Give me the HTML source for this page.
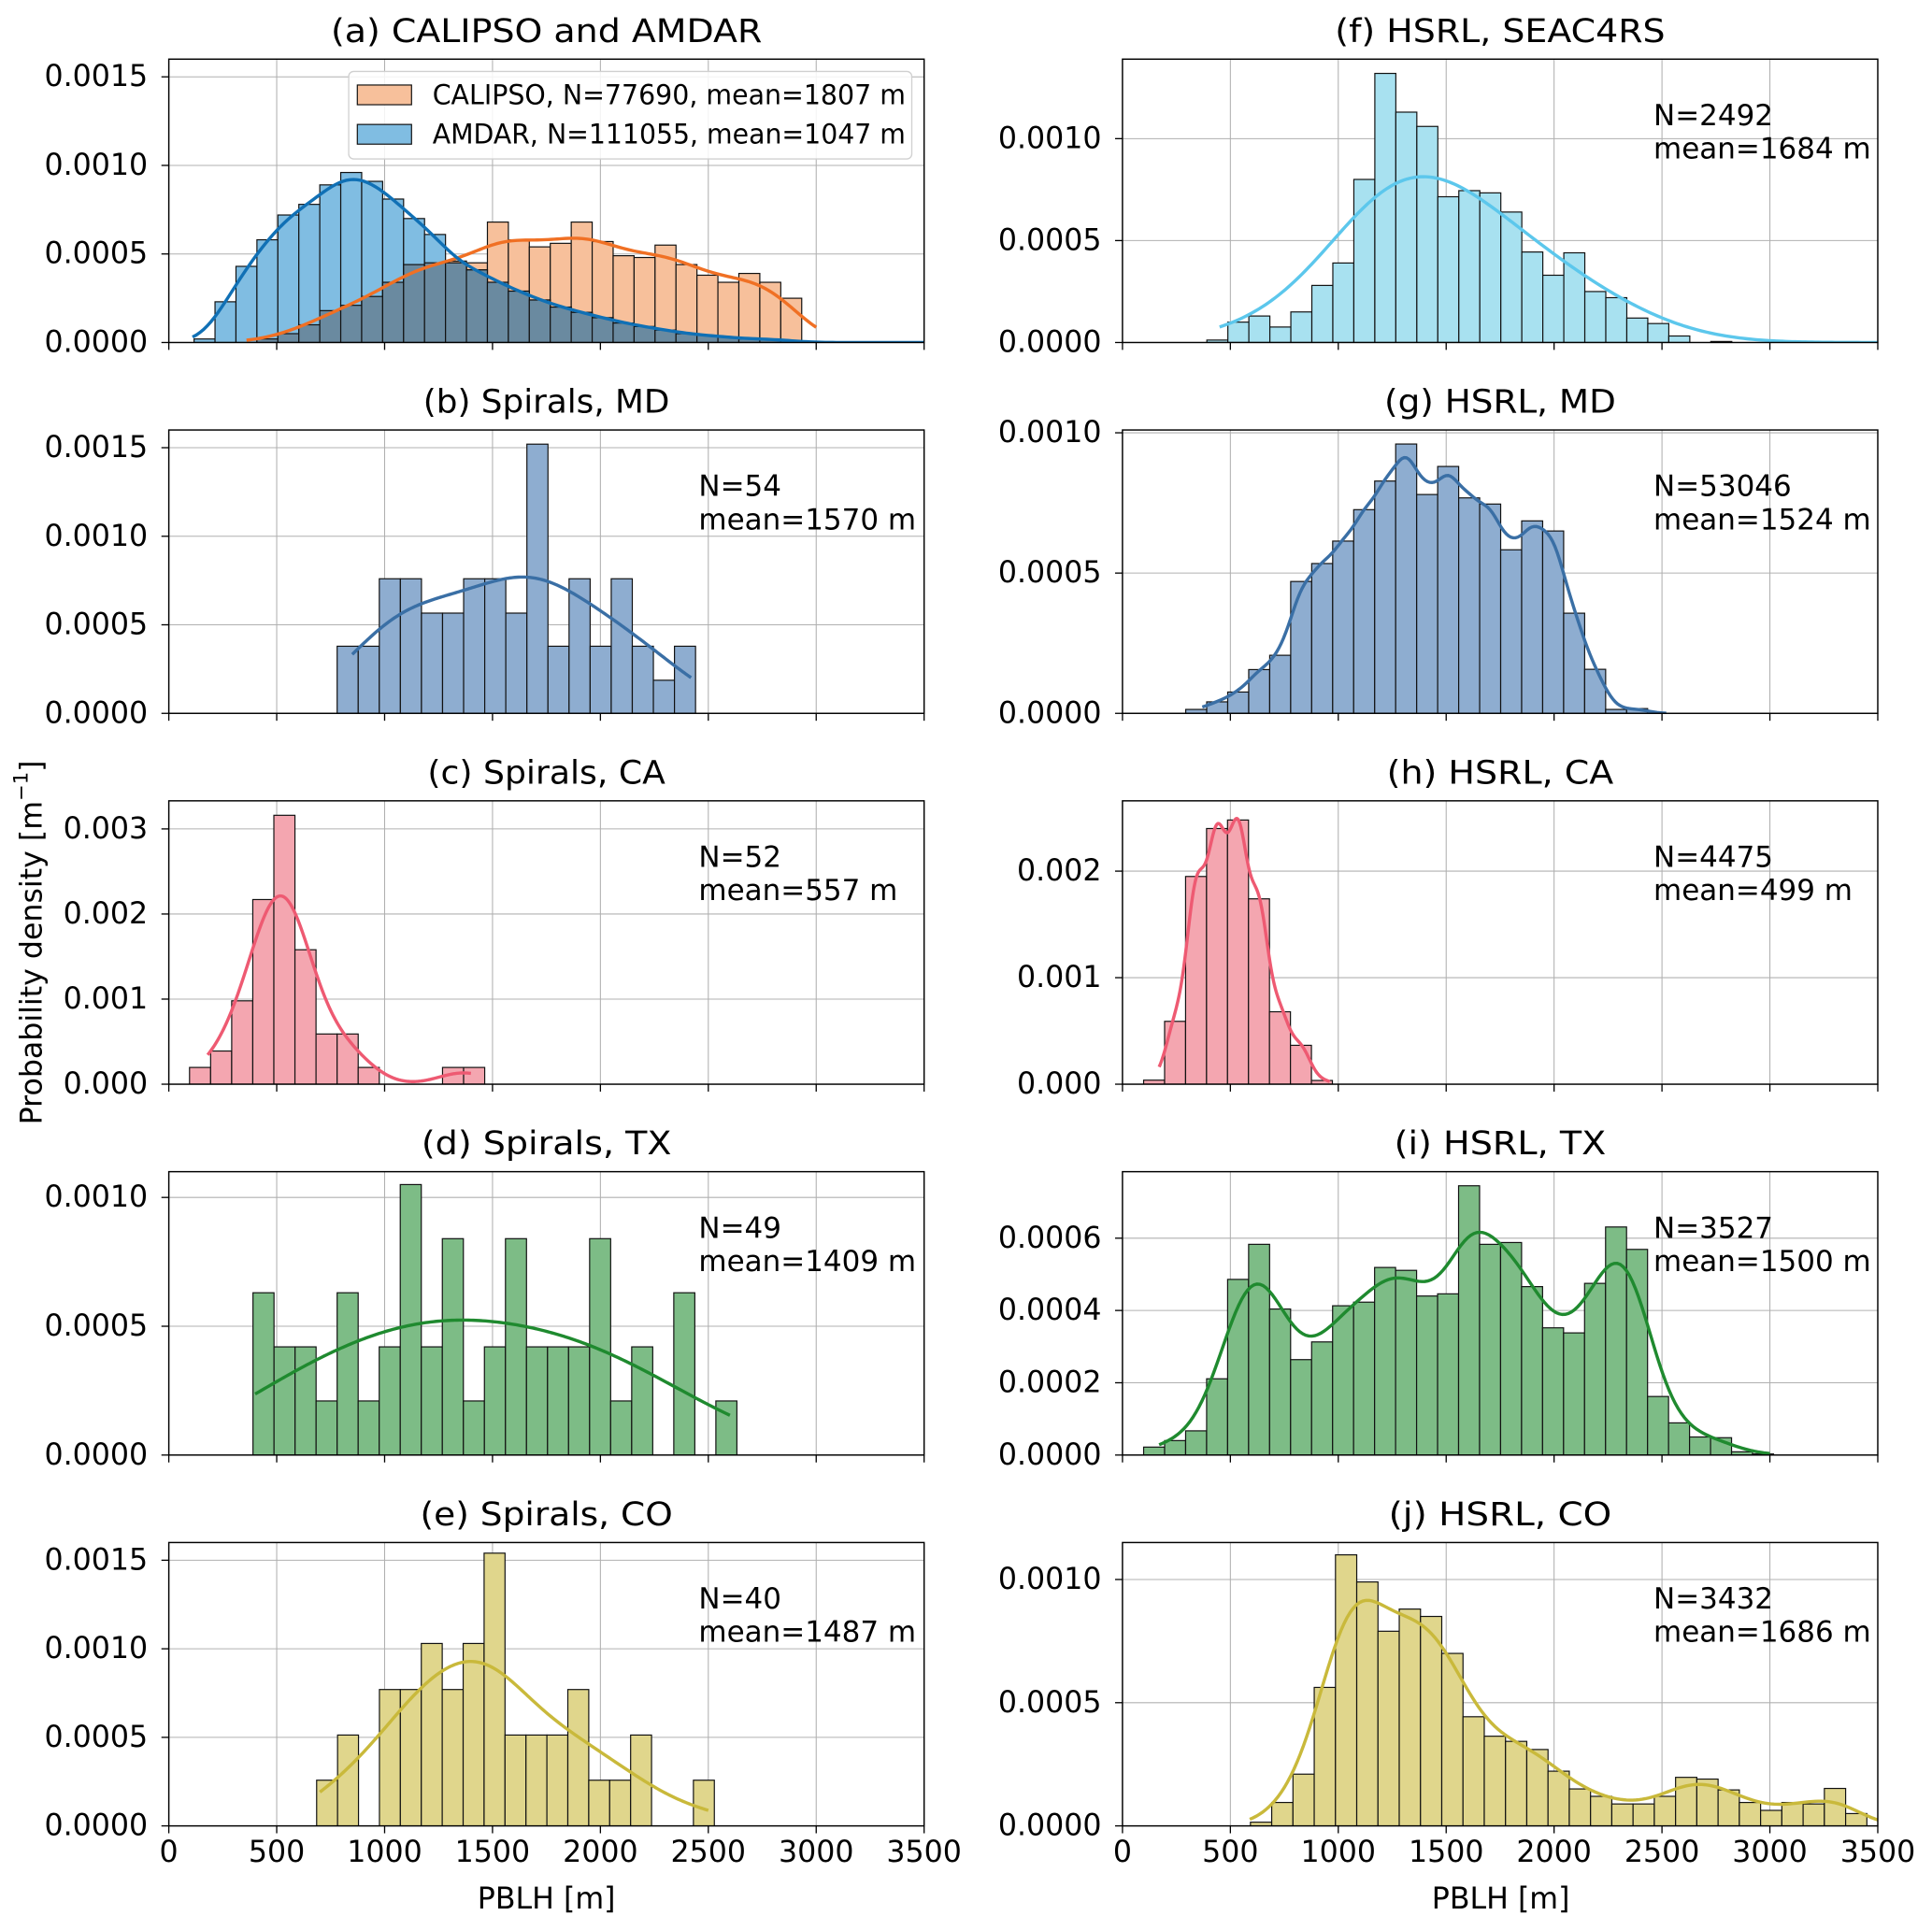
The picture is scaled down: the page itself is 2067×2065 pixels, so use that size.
<!DOCTYPE html>
<html><head><meta charset="utf-8"><title>PBLH histograms</title>
<style>
html,body{margin:0;padding:0;background:#fff;}
svg{display:block;}
text{font-family:"DejaVu Sans","Liberation Sans",sans-serif;fill:#000;}
</style></head>
<body>
<svg id="fig" xmlns="http://www.w3.org/2000/svg" width="2067" height="2065" viewBox="0 0 1568 1566.5">
<rect x="0" y="0" width="1568" height="1566.5" fill="#fff"/>
<text x="27" y="765" font-size="24" text-anchor="middle" dominant-baseline="middle" transform="rotate(-90 27 765)">Probability density [m<tspan font-size="16" dy="-9">−1</tspan><tspan dy="9">]</tspan></text>
<text x="443.5" y="1549" font-size="24" text-anchor="middle">PBLH [m]</text>
<text x="1218" y="1549" font-size="24" text-anchor="middle">PBLH [m]</text>
</svg>
<script>
// ---- data (bin starts / widths in m, densities in 1/m) ----
const xTickValues = [0,500,1000,1500,2000,2500,3000,3500];
const xTickLabels = ["0","500","1000","1500","2000","2500","3000","3500"];

const aBinStart = 117, aBinWidth = 97.1;
const aAmdarHeights = [0.00002,0.00023,0.00043,0.00058,0.00072,0.00078,0.00089,0.00096,0.00091,0.00081,0.0007,0.00061,0.00045,0.00041,0.00034,0.00029,0.00024,0.0002,0.00017,0.00014,0.00011,0.00009,0.00007,0.00005,0.00004,0.00003,0.00002,0.00002,0.00001];
const aCalipsoHeights = [0,0,0,0.00002,0.00005,0.0001,0.00018,0.00021,0.00026,0.00034,0.00044,0.00045,0.00046,0.00045,0.00068,0.00058,0.00054,0.00056,0.00068,0.00057,0.00049,0.00048,0.00055,0.00044,0.00038,0.00034,0.00039,0.00034,0.00025];
const aYTicks = [0,0.0005,0.001,0.0015];
const aYLabels = ["0.0000","0.0005","0.0010","0.0015"];

const bBinStart = 780, bBinWidth = 97.7;
const bHeights = [0.000379,0.000379,0.00076,0.00076,0.000566,0.000566,0.00076,0.00076,0.000566,0.00152,0.000379,0.00076,0.000379,0.00076,0.000379,0.000187,0.000379];
const bYTicks = [0,0.0005,0.001,0.0015];
const bYLabels = ["0.0000","0.0005","0.0010","0.0015"];

const cBinStart = 96, cBinWidth = 97.7;
const cHeights = [0.000197,0.00039,0.00098,0.00217,0.00316,0.00158,0.00059,0.00059,0.000197,0,0,0,0.000197,0.000197];
const cYTicks = [0,0.001,0.002,0.003];
const cYLabels = ["0.000","0.001","0.002","0.003"];

const dBinStart = 390, dBinWidth = 97.5;
const dHeights = [0.00063,0.00042,0.00042,0.00021,0.00063,0.00021,0.00042,0.00105,0.00042,0.00084,0.00021,0.00042,0.00084,0.00042,0.00042,0.00042,0.00084,0.00021,0.00042,0,0.00063,0,0.00021];
const dYTicks = [0,0.0005,0.001];
const dYLabels = ["0.0000","0.0005","0.0010"];

const eBinStart = 685, eBinWidth = 97;
const eHeights = [0.000258,0.000513,0,0.00077,0.00077,0.00103,0.00077,0.00103,0.00154,0.000513,0.000513,0.000513,0.00077,0.000258,0.000258,0.000513,0,0,0.000258];
const eYTicks = [0,0.0005,0.001,0.0015];
const eYLabels = ["0.0000","0.0005","0.0010","0.0015"];

const fBinStart = 391, fBinWidth = 97.3;
const fHeights = [0.000012,0.0001,0.00013,0.000076,0.00015,0.00028,0.00039,0.0008,0.00132,0.00113,0.00106,0.000715,0.000745,0.000734,0.00064,0.000444,0.00033,0.00044,0.00025,0.00022,0.00012,0.000093,0.000032,0,0.000005];
const fYTicks = [0,0.0005,0.001];
const fYLabels = ["0.0000","0.0005","0.0010"];

const gBinStart = 293, gBinWidth = 97.3;
const gHeights = [0.000014,0.000041,0.000076,0.000156,0.000207,0.00047,0.000534,0.000614,0.000726,0.000828,0.00096,0.00078,0.00088,0.000768,0.000746,0.000583,0.000686,0.00065,0.000357,0.000157,0.000014,0.000017];
const gYTicks = [0,0.0005,0.001];
const gYLabels = ["0.0000","0.0005","0.0010"];

const hBinStart = 98, hBinWidth = 97.2;
const hHeights = [0.000038,0.00059,0.00195,0.0024,0.00248,0.00174,0.00068,0.000365,0.000035];
const hYTicks = [0,0.001,0.002];
const hYLabels = ["0.000","0.001","0.002"];

const iBinStart = 98, iBinWidth = 97.3;
const iHeights = [0.000022,0.00004,0.000067,0.000211,0.000486,0.000583,0.000404,0.000264,0.000313,0.000413,0.000423,0.000519,0.000511,0.00044,0.000446,0.000745,0.000583,0.000588,0.000466,0.000352,0.000338,0.000475,0.000631,0.000569,0.000162,0.000089,0.00005,0.000048,0.000009,0.000003];
const iYTicks = [0,0.0002,0.0004,0.0006];
const iYLabels = ["0.0000","0.0002","0.0004","0.0006"];

const jBinStart = 593, jBinWidth = 98.5;
const jHeights = [0.000015,0.000095,0.00021,0.000562,0.0011,0.00099,0.00079,0.00088,0.00085,0.0007,0.000443,0.000364,0.000343,0.00031,0.000222,0.00015,0.00012,0.000089,0.000089,0.00012,0.000197,0.00019,0.000146,0.000095,0.000063,0.000095,0.000089,0.000152,0.00005];
const jYTicks = [0,0.0005,0.001];
const jYLabels = ["0.0000","0.0005","0.0010"];

const panelTitles = ["(a) CALIPSO and AMDAR","(b) Spirals, MD","(c) Spirals, CA","(d) Spirals, TX","(e) Spirals, CO","(f) HSRL, SEAC4RS","(g) HSRL, MD","(h) HSRL, CA","(i) HSRL, TX","(j) HSRL, CO"];
const titleWidths = [350,200,193,203,205,268,188,184,172,181];
const panelN = [null,"N=54","N=52","N=49","N=40","N=2492","N=53046","N=4475","N=3527","N=3432"];
const panelMean = [null,"mean=1570 m","mean=557 m","mean=1409 m","mean=1487 m","mean=1684 m","mean=1524 m","mean=499 m","mean=1500 m","mean=1686 m"];
const legendLabels = ["CALIPSO, N=77690, mean=1807 m","AMDAR, N=111055, mean=1047 m"];

// ---- layout ----
const NS = "http://www.w3.org/2000/svg";
const svg = document.getElementById("fig");
const COLX = [137, 911], PW = 613, PH = 230;
const ROWY = [48, 349, 650, 951, 1252];
const XMAX = 3500;

function el(tag, attrs, parent) {
  const e = document.createElementNS(NS, tag);
  for (const k in attrs) e.setAttribute(k, attrs[k]);
  (parent || svg).appendChild(e);
  return e;
}
function gauss(x, m, s) { return Math.exp(-0.5 * ((x - m) / s) ** 2) / (s * Math.sqrt(2 * Math.PI)); }
function kde(start, width, heights, bw, lo, hi) {
  const pts = [];
  const s = Math.sqrt(bw * bw + width * width / 12);
  for (let k = 0; k <= 200; k++) {
    const x = lo + (hi - lo) * k / 200;
    let f = 0;
    heights.forEach((h, i) => { f += h * width * gauss(x, start + (i + 0.5) * width, s); });
    pts.push([x, f]);
  }
  return pts;
}

const panels = [
  {key:"a", col:0, row:0, ymax:0.0016, ticks:aYTicks, labels:aYLabels},
  {key:"b", col:0, row:1, ymax:0.0016, ticks:bYTicks, labels:bYLabels, start:bBinStart, width:bBinWidth, h:bHeights, fill:"#8eadd0", line:"#3a6fa5", bw:210, lo:850, hi:2420},
  {key:"c", col:0, row:2, ymax:0.00333, ticks:cYTicks, labels:cYLabels, start:cBinStart, width:cBinWidth, h:cHeights, fill:"#f4a6b0", line:"#ee5a72", bw:100, lo:180, hi:1400},
  {key:"d", col:0, row:3, ymax:0.0011, ticks:dYTicks, labels:dYLabels, start:dBinStart, width:dBinWidth, h:dHeights, fill:"#7dbc86", line:"#1f8a2f", bw:380, lo:400, hi:2600},
  {key:"e", col:0, row:4, ymax:0.0016, ticks:eYTicks, labels:eYLabels, start:eBinStart, width:eBinWidth, h:eHeights, fill:"#e0d68c", line:"#c9b93b", bw:190, lo:700, hi:2500},
  {key:"f", col:1, row:0, ymax:0.00139, ticks:fYTicks, labels:fYLabels, start:fBinStart, width:fBinWidth, h:fHeights, fill:"#a8e1f0", line:"#5cc7ec", bw:290, lo:450, hi:3500},
  {key:"g", col:1, row:1, ymax:0.00101, ticks:gYTicks, labels:gYLabels, start:gBinStart, width:gBinWidth, h:gHeights, fill:"#8eadd0", line:"#3a6fa5", bw:50, lo:370, hi:2520},
  {key:"h", col:1, row:2, ymax:0.00266, ticks:hYTicks, labels:hYLabels, start:hBinStart, width:hBinWidth, h:hHeights, fill:"#f4a6b0", line:"#ee5a72", bw:35, lo:170, hi:960},
  {key:"i", col:1, row:3, ymax:0.000784, ticks:iYTicks, labels:iYLabels, start:iBinStart, width:iBinWidth, h:iHeights, fill:"#7dbc86", line:"#1f8a2f", bw:95, lo:170, hi:3000},
  {key:"j", col:1, row:4, ymax:0.00115, ticks:jYTicks, labels:jYLabels, start:jBinStart, width:jBinWidth, h:jHeights, fill:"#e0d68c", line:"#c9b93b", bw:110, lo:590, hi:3500}
];

panels.forEach((p, idx) => {
  const x0 = COLX[p.col], y0 = ROWY[p.row];
  const xs = v => x0 + v / XMAX * PW;
  const ys = v => y0 + PH - v / p.ymax * PH;
  const g = el("g", {});
  
  
  const clipId = "clip-" + p.key;
  const cp = el("clipPath", {id: clipId}, g);
  el("rect", {x: x0, y: y0, width: PW, height: PH}, cp);

  xTickValues.forEach(v => {
    const l = el("line", {x1: xs(v), x2: xs(v), y1: y0, y2: y0 + PH, stroke: "#b0b0b0", "stroke-width": 0.8}, g);
    
    
  });
  p.ticks.forEach(v => {
    const l = el("line", {x1: x0, x2: x0 + PW, y1: ys(v), y2: ys(v), stroke: "#b0b0b0", "stroke-width": 0.8}, g);
    
    
  });

  const plot = el("g", {"clip-path": "url(#" + clipId + ")"}, g);
  if (p.key === "a") {
    aCalipsoHeights.forEach((h, i) => {
      if (h <= 0) return;
      const r = el("rect", {x: xs(aBinStart + i * aBinWidth), y: ys(h), width: xs(aBinWidth) - xs(0), height: ys(0) - ys(h), fill: "#f7c09b", stroke: "#111", "stroke-width": 0.9}, plot);
      
      
    });
    aAmdarHeights.forEach((h, i) => {
      if (h <= 0) return;
      const r = el("rect", {x: xs(aBinStart + i * aBinWidth), y: ys(h), width: xs(aBinWidth) - xs(0), height: ys(0) - ys(h), fill: "#80bde2", stroke: "#111", "stroke-width": 0.9}, plot);
      
      
    });
    aAmdarHeights.forEach((h, i) => {
      const m = Math.min(h, aCalipsoHeights[i]);
      if (m <= 0) return;
      const r = el("rect", {x: xs(aBinStart + i * aBinWidth), y: ys(m), width: xs(aBinWidth) - xs(0), height: ys(0) - ys(m), fill: "#6a8aa0", stroke: "#111", "stroke-width": 0.9}, plot);
      
      
    });
    const k1 = kde(aBinStart, aBinWidth, aCalipsoHeights, 130, 360, 3000);
    const c1 = el("polyline", {points: k1.map(q => xs(q[0]).toFixed(2) + "," + ys(q[1]).toFixed(2)).join(" "), fill: "none", stroke: "#f07024", "stroke-width": 2.6}, plot);
    
    
    const k2 = kde(aBinStart, aBinWidth, aAmdarHeights, 80, 110, 3500);
    const c2 = el("polyline", {points: k2.map(q => xs(q[0]).toFixed(2) + "," + ys(q[1]).toFixed(2)).join(" "), fill: "none", stroke: "#1070b5", "stroke-width": 2.6}, plot);
    
    
  } else {
    p.h.forEach((h, i) => {
      if (h <= 0) return;
      const r = el("rect", {x: xs(p.start + i * p.width), y: ys(h), width: xs(p.width) - xs(0), height: ys(0) - ys(h), fill: p.fill, stroke: "#111", "stroke-width": 0.9}, plot);
      
      
    });
    const k = kde(p.start, p.width, p.h, p.bw, p.lo, p.hi);
    const c = el("polyline", {points: k.map(q => xs(q[0]).toFixed(2) + "," + ys(q[1]).toFixed(2)).join(" "), fill: "none", stroke: p.line, "stroke-width": 2.6}, plot);
    
    
  }

  const sp = el("rect", {x: x0, y: y0, width: PW, height: PH, fill: "none", stroke: "#000", "stroke-width": 1.1}, g);
  
  

  p.ticks.forEach((v, i) => {
    const t = el("line", {x1: x0 - 6, x2: x0, y1: ys(v), y2: ys(v), stroke: "#000", "stroke-width": 1}, g);
    
    
    const tx = el("text", {x: x0 - 17, y: ys(v), "font-size": 24, "text-anchor": "end", "dominant-baseline": "central"}, g);
    tx.textContent = p.labels[i];
    
    
  });
  xTickValues.forEach((v, i) => {
    const t = el("line", {x1: xs(v), x2: xs(v), y1: y0 + PH, y2: y0 + PH + 6, stroke: "#000", "stroke-width": 1}, g);
    
    
    if (p.row === 4) {
      const tx = el("text", {x: xs(v), y: y0 + PH + 29, "font-size": 24, "text-anchor": "middle"}, g);
      tx.textContent = xTickLabels[i];
      
      
    }
  });

  const tt = el("text", {x: x0 + PW / 2, y: y0 - 14, "font-size": 26, "text-anchor": "middle", textLength: titleWidths[idx], lengthAdjust: "spacingAndGlyphs"}, g);
  tt.textContent = panelTitles[idx];
  
  

  if (panelN[idx]) {
    const ax = p.col === 0 ? 567 : 1342;
    const n = el("text", {x: ax, y: y0 + 46, "font-size": 23.5, "dominant-baseline": "central"}, g);
    n.textContent = panelN[idx];
    
    
    const m = el("text", {x: ax, y: y0 + 73, "font-size": 23.5, "dominant-baseline": "central"}, g);
    m.textContent = panelMean[idx];
    
    
  }

  if (p.key === "a") {
    const lg = el("g", {}, g);
    
    
    el("rect", {x: 283, y: 58, width: 457, height: 71, rx: 4, fill: "#fff", "fill-opacity": 0.85, stroke: "#d0d0d0", "stroke-width": 1}, lg);
    const cols = ["#f7c09b", "#80bde2"];
    [0, 1].forEach(i => {
      const cy = 77 + i * 32;
      const pr = el("rect", {x: 290, y: cy - 8, width: 44, height: 16, fill: cols[i], stroke: "#111", "stroke-width": 0.9}, lg);
      
      
      const lt = el("text", {x: 351, y: cy, "font-size": 22, "dominant-baseline": "central", textLength: 384, lengthAdjust: "spacingAndGlyphs"}, lg);
      lt.textContent = legendLabels[i];
      
      
    });
  }
});
</script>
</body></html>
